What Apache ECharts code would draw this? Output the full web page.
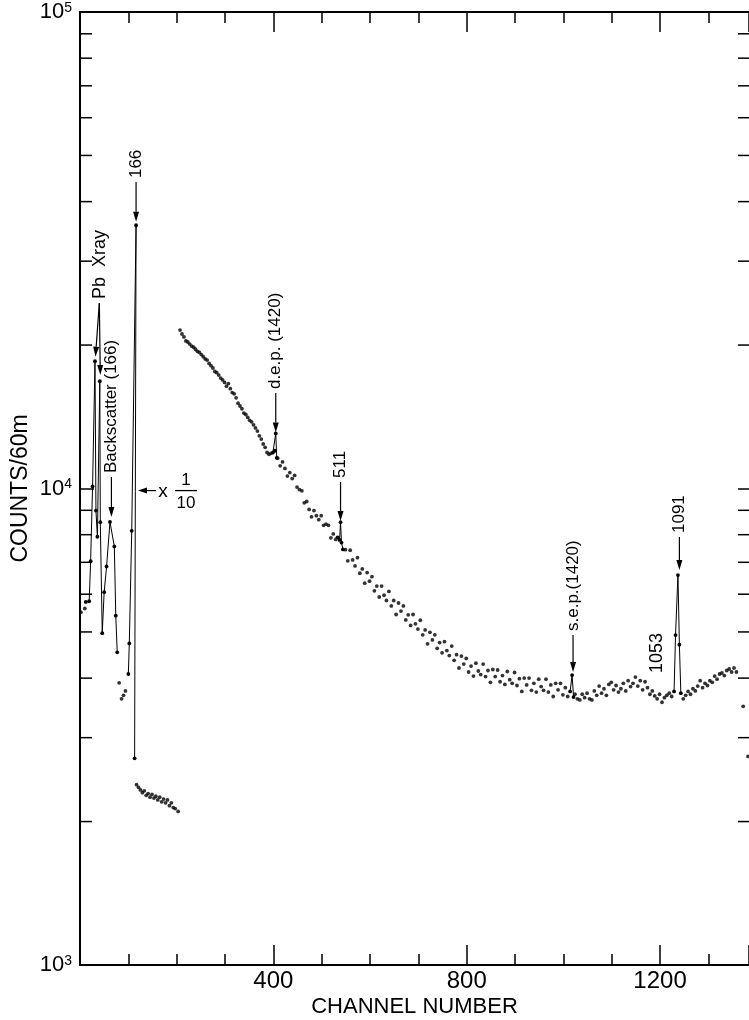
<!DOCTYPE html>
<html>
<head>
<meta charset="utf-8">
<title>Counts per channel</title>
<script src="https://cdn.jsdelivr.net/npm/echarts@6/dist/echarts.min.js"></script>
<style>
html, body { margin: 0; padding: 0; background: #fff; }
#chart { width: 749px; height: 1020px; }
</style>
</head>
<body>
<div id="chart"></div>
<script>
// [channel, counts]
const pbDots = [[2, 5500], [10, 5600]]
const pbLine = [[12, 5780], [19, 5800], [22, 7040], [26, 10100], [31, 18500], [33, 8990], [36, 7920], [41, 16800],
  [42, 8500], [46, 4970], [50, 6060], [55, 6860], [62, 8510], [71, 7560], [74, 5410], [77, 4530]]
const gapDots = [[81, 3910], [86, 3620], [90, 3680], [94, 3760]]
const peak166Line = [[100, 4080], [102, 4730], [107, 8150], [116, 35700], [113, 2715]]
const shelfDots = [[117, 2390], [121, 2360], [125, 2330], [129, 2300], [133, 2320], [137, 2270], [141, 2290],
  [145, 2250], [149, 2280], [153, 2240], [157, 2260], [161, 2220], [165, 2250], [169, 2200], [173, 2230],
  [177, 2190], [181, 2220], [185, 2160], [189, 2190], [193, 2140], [197, 2130], [203, 2100]]
const mainDots = [
  [207, 21500], [211, 21100], [215, 20800], [219, 20400], [223, 20300], [227, 20100], [231, 19900], [235, 19800],
  [239, 19600], [243, 19400], [247, 19300], [251, 19100], [255, 18900], [259, 18700], [263, 18600], [267, 18300],
  [271, 18100], [275, 17900], [279, 17600], [283, 17500], [287, 17300], [291, 17050], [295, 16900], [299, 16700],
  [303, 16400], [307, 16600], [311, 16200], [315, 15900], [319, 15800], [323, 15500], [327, 15100], [331, 14900],
  [335, 14700], [339, 14400], [343, 14300], [347, 14100], [351, 13900], [355, 13800], [359, 13600], [363, 13400],
  [367, 13200], [371, 12900], [375, 12700], [379, 12400], [383, 12200], [387, 11900], [391, 11800], [395, 11850],
  [409, 11580], [414, 11160], [419, 11370], [424, 11020], [429, 10620], [434, 10800], [439, 10490], [444, 10650],
  [449, 10070], [454, 9950], [459, 9890], [464, 9330], [469, 9390], [474, 9040], [479, 8720], [484, 8990],
  [489, 8770], [494, 8600], [499, 8770], [504, 8370], [509, 8420], [514, 8370], [519, 7880], [524, 8030], [529, 7820],
  [549, 7440], [554, 7050], [559, 7420], [564, 7080], [569, 6880], [574, 7160], [579, 6640], [584, 6780],
  [589, 6330], [594, 6660], [599, 6390], [604, 6530], [609, 6100], [614, 6240], [619, 5920], [624, 6240],
  [629, 5970], [634, 5820], [639, 6080], [644, 5670], [649, 5820], [654, 5440], [659, 5750], [664, 5530],
  [669, 5670], [674, 5300], [679, 5430], [684, 5160], [689, 5440], [694, 5200], [699, 5070], [704, 5290],
  [709, 4930], [714, 5050], [719, 4720], [724, 4990], [729, 4810], [734, 4930], [739, 4620], [744, 4750],
  [749, 4520], [754, 4770], [759, 4570], [764, 4460], [769, 4670], [774, 4360], [779, 4480], [784, 4200],
  [789, 4450], [794, 4280], [799, 4400], [804, 4120], [809, 4240], [814, 4040], [819, 4300], [824, 4140],
  [829, 4070], [834, 4280], [839, 4030], [844, 4150], [849, 3920], [854, 4170], [859, 4030], [864, 4160],
  [869, 3930], [874, 4050], [879, 3880], [884, 4130], [889, 3970], [894, 3900], [899, 4110], [904, 3860],
  [909, 3990], [914, 3750], [919, 4000], [924, 3870], [929, 4000], [934, 3770], [939, 3900], [944, 3740],
  [949, 3980], [954, 3840], [959, 3770], [964, 3980], [969, 3740], [974, 3870], [979, 3660], [984, 3900],
  [989, 3780], [994, 3900], [999, 3690], [1004, 3820], [1009, 3660],
  [1024, 3700], [1029, 3620], [1034, 3600], [1039, 3700], [1044, 3640], [1049, 3720], [1054, 3620], [1059, 3600],
  [1064, 3760], [1069, 3680], [1074, 3850], [1079, 3720], [1084, 3800], [1089, 3680], [1094, 3880], [1099, 3920],
  [1104, 3780], [1109, 3860], [1114, 3740], [1119, 3800], [1124, 3900], [1129, 3760], [1134, 3950], [1139, 3840],
  [1144, 3900], [1149, 4020], [1154, 3850], [1159, 3950], [1164, 3780], [1169, 3930], [1174, 3820], [1179, 3700],
  [1184, 3760], [1189, 3670], [1194, 3620], [1199, 3700], [1204, 3560], [1209, 3640], [1214, 3680], [1219, 3720],
  [1224, 3660],
  [1248, 3620], [1253, 3680], [1258, 3750], [1263, 3700], [1268, 3800], [1273, 3760], [1278, 3850], [1283, 3950],
  [1288, 3820], [1293, 3900], [1298, 3860], [1303, 3950], [1308, 3920], [1313, 4040], [1318, 3980], [1323, 4080],
  [1328, 4100], [1333, 4050], [1338, 4150], [1343, 4180], [1348, 4120], [1353, 4200], [1358, 4120],
  [1372, 3490], [1382, 2740]
]
const depLine = [[399, 11900], [403, 12000], [405, 13050], [407, 11600]]
const line511 = [[533, 7900], [537, 7800], [539, 8500], [541, 7700], [544, 7450]]
const sepLine = [[1014, 3750], [1018, 4060], [1021, 3650]]
const line1091 = [[1229, 3750], [1232, 4925], [1237, 6580], [1240, 4700], [1243, 3720]]

// arrows: tail channel, tail counts, tip channel, tip counts
const arrowNotes = [[116, 43970, 116, 36300], [40, 24500, 32, 18900], [40, 24500, 42, 17300],
  [65, 10570, 65, 8710], [405, 15860, 405, 13100], [539, 10320, 539, 8550], [1020, 4927, 1020, 4120],
  [1240, 7910, 1240, 6745]]
const noteLabels = ['166', 'Pb  Xray', 'Backscatter (166)', 'd.e.p. (1420)', '511', 's.e.p.(1420)', '1091', '1053']
const noteChannels = [116, 41, 65, 405, 539, 1020, 1240, 1194]
const noteCounts = [43970, 24500, 10570, 15860, 10320, 4927, 7910, 4020]
const scaleNote = [[120, 9900]]
const minorTickValues = [2000, 3000, 4000, 5000, 6000, 7000, 8000, 9000,
  20000, 30000, 40000, 50000, 60000, 70000, 80000, 90000]

const FONT = '"Liberation Sans", Arial, sans-serif'
const INK = '#000'

const chart = echarts.init(document.getElementById('chart'))

const dotSeries = (data) => ({
  type: 'scatter', data, symbolSize: 3.8, itemStyle: {color: INK}, silent: true
})
const lineSeries = (data) => ({
  type: 'line', data, symbol: 'circle', symbolSize: 3.8, showSymbol: true,
  lineStyle: {color: INK, width: 1}, itemStyle: {color: INK}, silent: true
})

const xBase = {
  type: 'value', min: 0, max: 1384, splitLine: {show: false},
  axisLine: {onZero: false, lineStyle: {color: INK, width: 2}},
  axisTick: {inside: true, length: 11, lineStyle: {color: INK, width: 1.5}},
  axisLabel: {show: false}
}
const yBase = {
  type: 'log', logBase: 10, min: 1000, max: 100000, splitLine: {show: false},
  axisLine: {onZero: false, lineStyle: {color: INK, width: 2}},
  axisTick: {inside: true, length: 14, lineStyle: {color: INK, width: 1.5}},
  axisLabel: {show: false}
}

const renderMinorTick = (params, api) => {
  const cs = params.coordSys
  const y = api.coord([0, api.value(1)])[1]
  return {
    type: 'group', children: [
      {type: 'line', shape: {x1: cs.x, y1: y, x2: cs.x + 12, y2: y}, style: {stroke: INK, lineWidth: 1.5}},
      {type: 'line', shape: {x1: cs.x + cs.width - 11, y1: y, x2: cs.x + cs.width, y2: y}, style: {stroke: INK, lineWidth: 1.5}}
    ]
  }
}

const renderArrow = (params, api) => {
  const a = api.coord([api.value(0), api.value(1)])
  const b = api.coord([api.value(2), api.value(3)])
  const dx = b[0] - a[0], dy = b[1] - a[1]
  const len = Math.hypot(dx, dy) || 1
  const ux = dx / len, uy = dy / len
  const hx = b[0] - ux * 10, hy = b[1] - uy * 10
  return {
    type: 'group', children: [
      {type: 'line', shape: {x1: a[0], y1: a[1], x2: hx, y2: hy}, style: {stroke: INK, lineWidth: 1.2}},
      {type: 'polygon', shape: {points: [[b[0], b[1]], [hx - uy * 3, hy + ux * 3], [hx + uy * 3, hy - ux * 3]]}, style: {fill: INK}}
    ]
  }
}

const renderNote = (params, api) => {
  const p = api.coord([api.value(0), api.value(1)])
  const size = params.dataIndex === 7 || params.dataIndex === 1 ? 18 : 17
  return {
    type: 'text', x: p[0], y: p[1] - 4, rotation: Math.PI / 2,
    style: {
      text: noteLabels[params.dataIndex], fill: INK, font: `${size}px ${FONT}`,
      align: 'left', verticalAlign: 'middle', textAlign: 'left', textVerticalAlign: 'middle'
    }
  }
}

// "<- x 1/10" marker
const renderScale = (params, api) => {
  const p = api.coord([api.value(0), api.value(1)])
  const x = p[0], y = p[1]
  const txt = (t, tx, ty, s) => ({
    type: 'text', x: tx, y: ty,
    style: {text: t, fill: INK, font: `${s}px ${FONT}`, align: 'center', verticalAlign: 'middle', textAlign: 'center', textVerticalAlign: 'middle'}
  })
  return {
    type: 'group', children: [
      {type: 'line', shape: {x1: x + 8, y1: y, x2: x + 18, y2: y}, style: {stroke: INK, lineWidth: 1.2}},
      {type: 'polygon', shape: {points: [[x, y], [x + 9, y - 3], [x + 9, y + 3]]}, style: {fill: INK}},
      txt('x', x + 25, y + 1, 19),
      {type: 'line', shape: {x1: x + 37, y1: y, x2: x + 59, y2: y}, style: {stroke: INK, lineWidth: 1.3}},
      txt('1', x + 48, y - 10, 17),
      txt('10', x + 48, y + 13, 17)
    ]
  }
}

const option = {
  animation: false,
  backgroundColor: '#fff',
  grid: {left: 80, right: 0, top: 12, bottom: 55, containLabel: false, outerBoundsMode: 'none'},
  xAxis: [
    {
      ...xBase, position: 'bottom', interval: 100,
      axisLabel: {
        show: true, color: INK, fontSize: 24, fontFamily: FONT, margin: 4,
        formatter: (v) => (v > 0 && v % 400 === 0) ? String(v) : ''
      },
      name: 'CHANNEL NUMBER', nameLocation: 'middle', nameGap: 31, nameMoveOverlap: false,
      nameTextStyle: {color: INK, fontSize: 22, fontFamily: FONT}
    },
    {...xBase, position: 'bottom', interval: 400, axisLine: {show: false, onZero: false}, axisTick: {inside: true, length: 20, lineStyle: {color: INK, width: 1.5}}},
    {...xBase, position: 'top', interval: 100},
    {...xBase, position: 'top', interval: 400, axisLine: {show: false, onZero: false}, axisTick: {inside: true, length: 20, lineStyle: {color: INK, width: 1.5}}}
  ],
  yAxis: [
    {
      ...yBase, position: 'left',
      axisLabel: {
        show: true, margin: 8,
        formatter: (v) => `{b|10}{s|${Math.round(Math.log10(v))}}`,
        rich: {
          b: {fontSize: 22, fontFamily: FONT, color: INK},
          s: {fontSize: 14, fontFamily: FONT, color: INK, verticalAlign: 'top'}
        }
      },
      name: 'COUNTS/60m', nameLocation: 'middle', nameRotate: 90, nameGap: 48, nameMoveOverlap: false,
      nameTextStyle: {color: INK, fontSize: 23, fontFamily: FONT}
    },
    {...yBase, position: 'right', axisLine: {show: false, onZero: false}, axisTick: {inside: true, length: 11, lineStyle: {color: INK, width: 1.5}}}
  ],
  series: [
    dotSeries(pbDots),
    lineSeries(pbLine),
    dotSeries(gapDots),
    lineSeries(peak166Line),
    dotSeries(shelfDots),
    dotSeries(mainDots),
    lineSeries(depLine),
    lineSeries(line511),
    lineSeries(sepLine),
    lineSeries(line1091),
    {type: 'custom', data: minorTickValues.map(v => [0, v]), renderItem: renderMinorTick, silent: true},
    {type: 'custom', data: arrowNotes, renderItem: renderArrow, silent: true},
    {type: 'custom', data: noteChannels.map((c, i) => [c, noteCounts[i]]), renderItem: renderNote, silent: true},
    {type: 'custom', data: scaleNote, renderItem: renderScale, silent: true}
  ]
}

chart.setOption(option)
</script>
</body>
</html>
